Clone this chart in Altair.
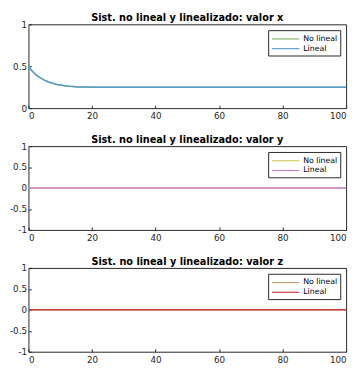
import altair as alt
import pandas as pd

# ---- data ----
t_x = [0, 1, 2, 3, 4, 5, 6, 7, 8, 9, 10, 11, 12, 13, 14, 15, 16, 18, 20, 100]
x_nolineal = [0.50, 0.45, 0.41, 0.38, 0.355, 0.335, 0.318, 0.303, 0.292, 0.283,
              0.275, 0.269, 0.264, 0.260, 0.257, 0.254, 0.253, 0.251, 0.250, 0.250]
x_lineal = [0.50, 0.45, 0.41, 0.38, 0.355, 0.335, 0.318, 0.303, 0.292, 0.283,
            0.275, 0.269, 0.264, 0.260, 0.257, 0.254, 0.253, 0.251, 0.250, 0.250]

t_flat = [0, 100]
y_nolineal = [0, 0]
y_lineal = [0, 0]
z_nolineal = [0, 0]
z_lineal = [0, 0]

series = ["No lineal", "Lineal"]
titles = ["Sist. no lineal y linealizado: valor x",
          "Sist. no lineal y linealizado: valor y",
          "Sist. no lineal y linealizado: valor z"]
x_ticks = [0, 20, 40, 60, 80, 100]
colors_x = ["#88b870", "#5a9ccc"]
colors_y = ["#d6c860", "#cc80d8"]
colors_z = ["#c8a070", "#c83c3c"]

W, H = 326, 86
FONT = "DejaVu Sans"


def panel(t, nl, li, title, ydom, yticks, colors):
    df = pd.DataFrame({
        "t": list(t) + list(t),
        "v": list(nl) + list(li),
        "serie": [series[0]] * len(t) + [series[1]] * len(t),
    })
    color = alt.Color(
        "serie:N",
        scale=alt.Scale(domain=series, range=colors),
        legend=alt.Legend(
            title=None, orient="top-right", offset=6,
            strokeColor="#262626", fillColor="white", padding=3,
            symbolType="M-1,0L4.6,0", symbolSize=100, symbolStrokeWidth=1.2,
            labelFontSize=8, labelFont=FONT, labelColor="#000",
            labelOffset=21, rowPadding=0, cornerRadius=0,
        ),
    )
    x = alt.X("t:Q", scale=alt.Scale(domain=[0, 100], nice=False, zero=False),
              axis=alt.Axis(values=x_ticks, title=None, offset=-3, tickSize=3,
                            labelPadding=4, domain=False, grid=False))
    y = alt.Y("v:Q", scale=alt.Scale(domain=ydom, nice=False),
              axis=alt.Axis(values=yticks, title=None, offset=-3, tickSize=3,
                            labelPadding=2, domain=False, grid=False,
                            labelExpr="datum.value + ''"))
    base = alt.Chart(df).mark_line(strokeWidth=1.5).encode(x=x, y=y, color=color)
    layers = [base.transform_filter(alt.datum.serie == s) for s in series]
    return alt.layer(*layers).properties(
        width=W, height=H,
        title=alt.TitleParams(title, fontSize=10, font=FONT, fontWeight="bold",
                              color="#000", offset=-3),
    )


p1 = panel(t_x, x_nolineal, x_lineal, titles[0], [0, 1], [0, 0.5, 1], colors_x)
p2 = panel(t_flat, y_nolineal, y_lineal, titles[1], [-1, 1], [-1, -0.5, 0, 0.5, 1], colors_y)
p3 = panel(t_flat, z_nolineal, z_lineal, titles[2], [-1, 1], [-1, -0.5, 0, 0.5, 1], colors_z)

chart = alt.vconcat(p1, p2, p3, spacing=13).resolve_scale(color="independent").properties(
    padding={"left": 0, "top": 0, "right": 0, "bottom": 0}
).configure_view(stroke="#262626", strokeWidth=1).configure_axis(
    labelFont=FONT, labelFontSize=9, labelColor="#262626",
    tickColor="#262626", tickWidth=1,
)

chart.save("out.html", embed_options={"renderer": "svg", "actions": False})
